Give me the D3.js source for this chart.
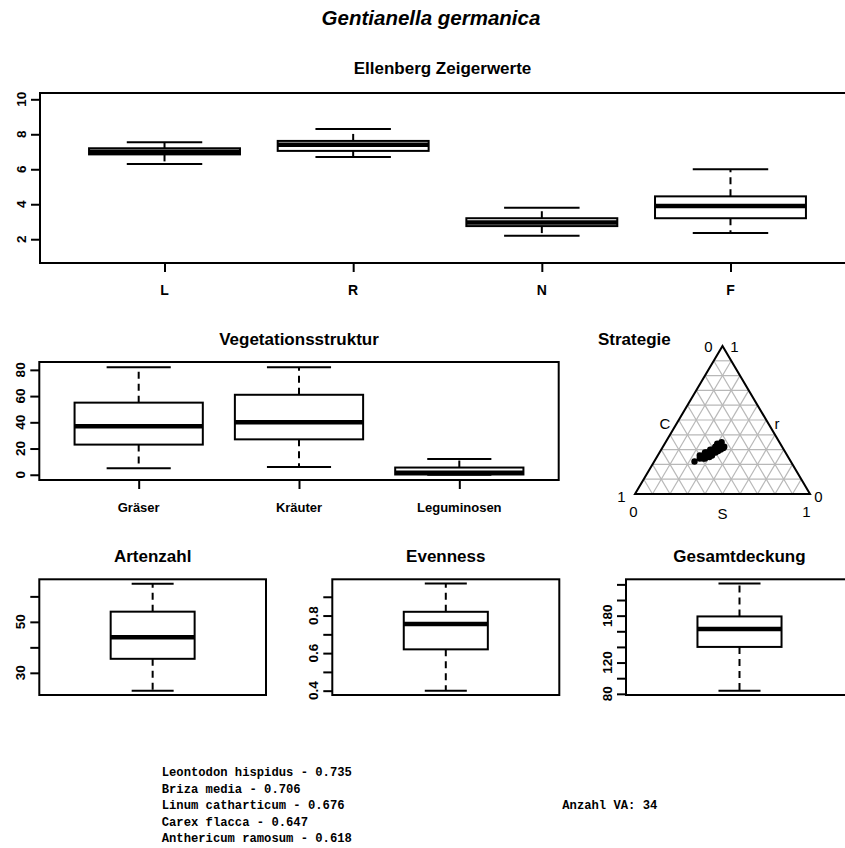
<!DOCTYPE html>
<html><head><meta charset="utf-8">
<script src="https://cdn.jsdelivr.net/npm/d3@7"></script>
<style>body{margin:0;background:#fff}svg{display:block}</style>
</head><body>
<svg id="c" width="845" height="848"></svg>
<script>
// ---------- data ----------
const mainTitle = "Gentianella germanica";

const ellCats = ["L", "R", "N", "F"];
const ellMin = [6.3, 6.7, 2.2, 2.35];
const ellQ1  = [6.85, 7.05, 2.75, 3.2];
const ellMed = [7.0, 7.4, 2.95, 3.9];
const ellQ3  = [7.2, 7.62, 3.2, 4.45];
const ellMax = [7.55, 8.3, 3.8, 6.0];
const ellTicks = [2, 4, 6, 8, 10];

const vegCats = ["Gräser", "Kräuter", "Leguminosen"];
const vegMin = [5, 6, 0];
const vegQ1  = [23, 27, 0.2];
const vegMed = [37, 40, 1.5];
const vegQ3  = [55, 61, 5.5];
const vegMax = [82, 82, 12];
const vegTicks = [0, 20, 40, 60, 80];

const artStats = [23, 35.5, 44, 54, 65];
const artTicks = [30, 40, 50, 60];
const artLabels = [30, 50];

const evenStats = [0.40, 0.62, 0.755, 0.82, 0.97];
const evenTicks = [0.4, 0.5, 0.6, 0.7, 0.8, 0.9];
const evenLabels = [0.4, 0.6, 0.8];

const gesStats = [84, 140, 163, 179, 221];
const gesTicks = [80, 100, 120, 140, 160, 180, 200, 220];
const gesLabels = [80, 120, 180];

// CSR strategy (C, S, r) per plot
const csrC = [.55,.51,.50,.49,.48,.48,.46,.46,.45,.45,.42,.43,.41,.43,.40,.38,.40,.38,.36,.38,.37,.34,.36,.35,.34,.36,.38,.42,.45,.48,.36,.33,.33,.40];
const csrS = [.23,.25,.24,.27,.26,.28,.26,.28,.27,.30,.28,.30,.29,.31,.31,.30,.32,.32,.31,.33,.32,.32,.34,.33,.35,.32,.30,.30,.29,.27,.30,.32,.35,.30];
const csrR = [.22,.24,.26,.24,.26,.24,.28,.26,.28,.25,.30,.27,.30,.26,.29,.32,.28,.30,.33,.29,.31,.34,.30,.32,.31,.32,.32,.28,.26,.25,.34,.35,.32,.30];
const triGrid = [0.1,0.2,0.3,0.4,0.5,0.6,0.7,0.8,0.9];

const species = ["Leontodon hispidus - 0.735","Briza media - 0.706","Linum catharticum - 0.676","Carex flacca - 0.647","Anthericum ramosum - 0.618"];
const countText = "Anzahl VA: 34";

// ---------- drawing ----------
const svg = d3.select("#c");
const FONT = "'Liberation Sans', Arial, sans-serif";

svg.append("text").attr("x", 431).attr("y", 25).attr("text-anchor","middle")
  .attr("font-family", FONT).attr("font-weight","bold").attr("font-style","italic")
  .attr("font-size", 20.5).text(mainTitle);

function boxPanel(o) {
  const g = svg.append("g");
  const x = d3.scaleLinear().domain(o.xdom).range([o.left, o.right]);
  const y = d3.scaleLinear().domain(o.ydom).range([o.bottom, o.top]);
  o.stats.forEach((s, i) => {
    const cx = x(i + 1), hw = (x(1 + o.bw/2) - x(1));
    const cw = hw * 0.5;
    const dash = "7,5";
    g.append("line").attr("x1",cx).attr("x2",cx).attr("y1",y(s[3])).attr("y2",y(s[4]))
      .attr("stroke","#000").attr("stroke-width",2).attr("stroke-dasharray",dash);
    g.append("line").attr("x1",cx).attr("x2",cx).attr("y1",y(s[1])).attr("y2",y(s[0]))
      .attr("stroke","#000").attr("stroke-width",2).attr("stroke-dasharray",dash);
    g.append("line").attr("x1",cx-cw).attr("x2",cx+cw).attr("y1",y(s[4])).attr("y2",y(s[4]))
      .attr("stroke","#000").attr("stroke-width",2);
    g.append("line").attr("x1",cx-cw).attr("x2",cx+cw).attr("y1",y(s[0])).attr("y2",y(s[0]))
      .attr("stroke","#000").attr("stroke-width",2);
    g.append("rect").attr("x",cx-hw).attr("width",2*hw).attr("y",y(s[3])).attr("height",y(s[1])-y(s[3]))
      .attr("fill","#fff").attr("stroke","#000").attr("stroke-width",2);
    g.append("line").attr("x1",cx-hw).attr("x2",cx+hw).attr("y1",y(s[2])).attr("y2",y(s[2]))
      .attr("stroke","#000").attr("stroke-width",4.5);
  });
  g.append("rect").attr("x",o.left).attr("y",o.top).attr("width",o.right-o.left).attr("height",o.bottom-o.top)
    .attr("fill","none").attr("stroke","#000").attr("stroke-width",2);
  const yAx = g.append("g").attr("transform",`translate(${o.left},0)`)
    .call(d3.axisLeft(y).tickValues(o.yticks).tickSize(9).tickFormat(""));
  yAx.select(".domain").remove();
  yAx.selectAll("line").attr("stroke-width",2);
  o.ylabels.forEach(v => {
    g.append("text").attr("transform",`translate(${o.left-14},${y(v)}) rotate(-90)`)
      .attr("text-anchor","middle").attr("font-family",FONT).attr("font-weight","bold")
      .attr("font-size",13.5).text(o.fmt ? o.fmt(v) : v);
  });
  if (o.cats) {
    const xAx = g.append("g").attr("transform",`translate(0,${o.bottom})`)
      .call(d3.axisBottom(x).tickValues(o.cats.map((c,i)=>i+1)).tickSize(9).tickFormat(""));
    xAx.select(".domain").remove();
    xAx.selectAll("line").attr("stroke-width",2);
    o.cats.forEach((c,i) => {
      g.append("text").attr("x",x(i+1)).attr("y",o.bottom+o.catDy).attr("text-anchor","middle")
        .attr("font-family",FONT).attr("font-weight","bold")
        .attr("font-size",o.catSize).text(c);
    });
  }
  g.append("text").attr("x",(o.left+Math.min(o.right,o.titleRight||o.right))/2).attr("y",o.titleY)
    .attr("text-anchor","middle").attr("font-family",FONT).attr("font-weight","bold")
    .attr("font-size",17).text(o.title);
}

const zip = (a,b,c,d,e) => a.map((_,i)=>[a[i],b[i],c[i],d[i],e[i]]);

boxPanel({title:"Ellenberg Zeigerwerte", titleY:74, left:40, right:855, titleRight:845, top:93, bottom:263,
  xdom:[0.34,4.66], ydom:[0.64,10.36], bw:0.8,
  stats: zip(ellMin,ellQ1,ellMed,ellQ3,ellMax), yticks:ellTicks, ylabels:ellTicks,
  cats: ellCats, catDy:32, catSize:14});

boxPanel({title:"Vegetationsstruktur", titleY:345, left:39.3, right:558.7, top:362, bottom:480,
  xdom:[0.38,3.62], ydom:[-4,86], bw:0.8,
  stats: zip(vegMin,vegQ1,vegMed,vegQ3,vegMax), yticks:vegTicks, ylabels:vegTicks,
  cats: vegCats, catDy:32, catSize:13});

boxPanel({title:"Artenzahl", titleY:562, left:39.3, right:266, top:579.3, bottom:695,
  xdom:[0.46,1.54], ydom:[21.3,66.7], bw:0.4,
  stats:[artStats], yticks:artTicks, ylabels:artLabels});

boxPanel({title:"Evenness", titleY:562, left:332.3, right:559.3, top:579.3, bottom:695,
  xdom:[0.46,1.54], ydom:[0.377,0.993], bw:0.4,
  stats:[evenStats], yticks:evenTicks, ylabels:evenLabels, fmt:d3.format(".1f")});

boxPanel({title:"Gesamtdeckung", titleY:562, left:626, right:853, top:579.3, bottom:695,
  xdom:[0.46,1.54], ydom:[78.5,226.5], bw:0.4,
  stats:[gesStats], yticks:gesTicks, ylabels:gesLabels});

// ---------- ternary ----------
const tx = d3.scaleLinear().domain([0,1]).range([635, 810]);
const ty = d3.scaleLinear().domain([0,1]).range([494, 346]);
const P = (S, r) => [tx(S + r/2), ty(r)];
const tg = svg.append("g");
const line = d3.line();
triGrid.forEach(k => {
  [[P(0,k),P(1-k,k)], [P(k,0),P(k,1-k)], [P(1-k,0),P(0,1-k)]].forEach(seg => {
    tg.append("path").attr("d", line(seg)).attr("stroke","#b8b8b8").attr("stroke-width",1.2).attr("fill","none");
  });
});
tg.append("path").attr("d", line([P(0,0),P(1,0),P(0,1)]) + "Z")
  .attr("fill","none").attr("stroke","#000").attr("stroke-width",2);
csrS.forEach((s,i) => {
  const p = P(s, csrR[i]);
  tg.append("circle").attr("cx",p[0]).attr("cy",p[1]).attr("r",3.2).attr("fill","#000");
});
const tlab = [["0",708.5,352],["1",734.5,352],["C",665,429],["r",777,429],["1",621.5,502],["0",818.5,502],["0",633.5,517],["S",722.5,519],["1",806.5,517]];
tlab.forEach(t => tg.append("text").attr("x",t[1]).attr("y",t[2]).attr("text-anchor","middle")
  .attr("font-family",FONT).attr("font-size",15).text(t[0]));
tg.append("text").attr("x",598).attr("y",345).attr("font-family",FONT).attr("font-weight","bold")
  .attr("font-size",17).text("Strategie");

// ---------- text ----------
const MONO = "'Liberation Mono', 'Courier New', monospace";
species.forEach((s,i) => svg.append("text").attr("x",161.7).attr("y",776 + i*16.5)
  .attr("font-family",MONO).attr("font-weight","bold").attr("font-size",12.2).text(s));
svg.append("text").attr("x",562.3).attr("y",809).attr("font-family",MONO).attr("font-weight","bold")
  .attr("font-size",12.2).text(countText);
</script>
</body></html>
